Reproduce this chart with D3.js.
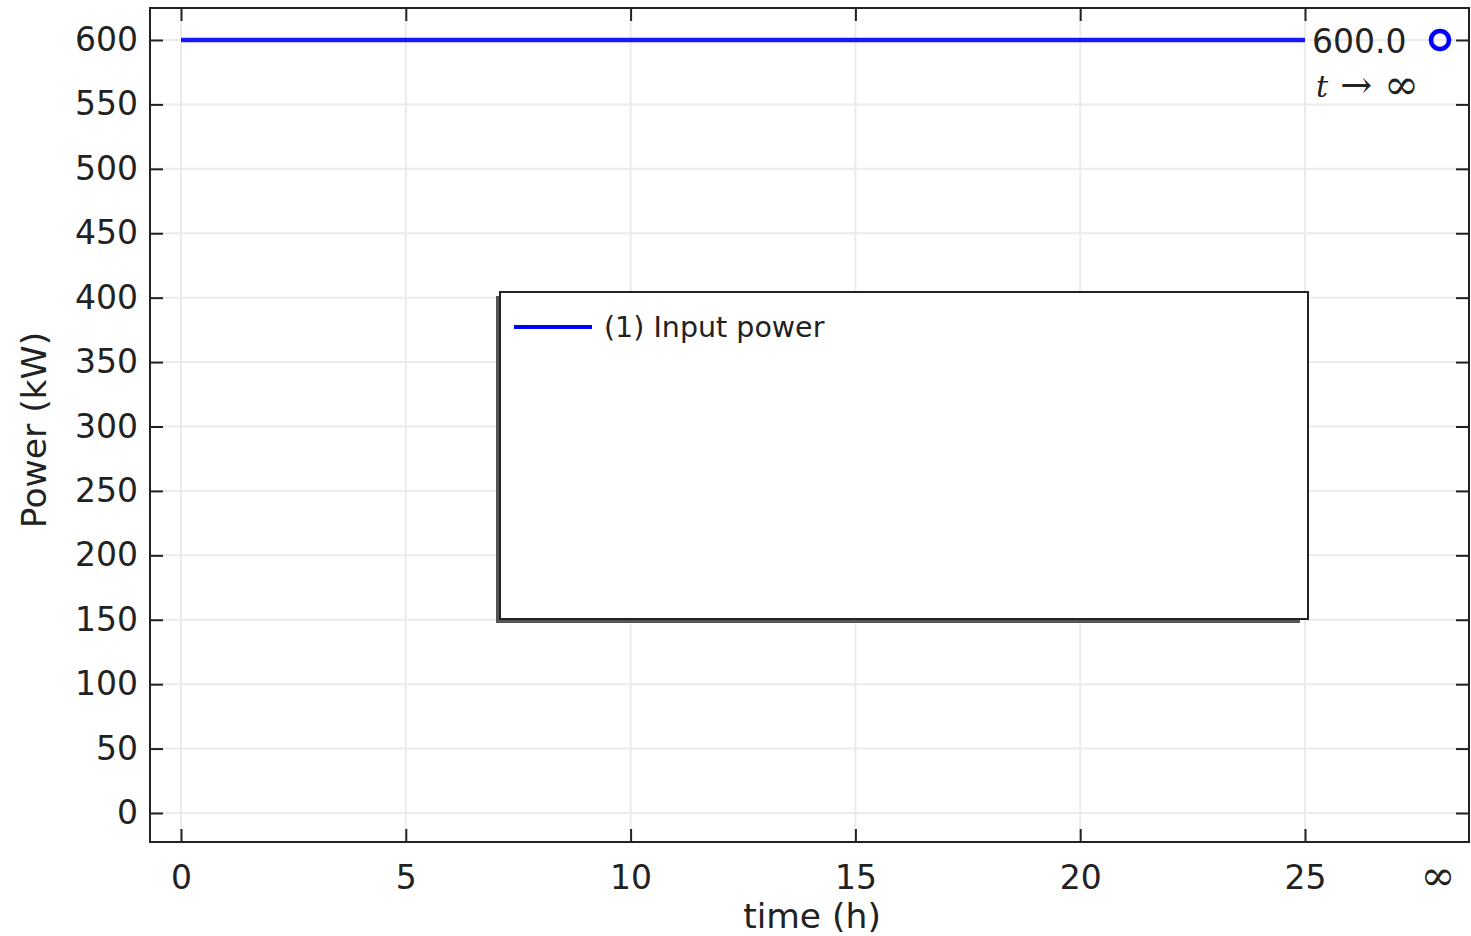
<!DOCTYPE html>
<html>
<head>
<meta charset="utf-8">
<script src="https://cdn.jsdelivr.net/npm/d3@7"></script>
<style>
  html, body { margin: 0; padding: 0; background: #fff; }
  svg text { font-family: "DejaVu Sans", sans-serif; fill: #222; }
</style>
</head>
<body>
<div id="chart"></div>
<script>
// data
const timeHours = [0, 25];
const inputPower = [600, 600];
const limitValue = 600;
const xTicks = [0, 5, 10, 15, 20, 25];
const yTicks = [0, 50, 100, 150, 200, 250, 300, 350, 400, 450, 500, 550, 600];
const seriesNames = ['(1) Input power'];

const W = 1471, H = 936;
const frame = { left: 150, top: 8, right: 1469, bottom: 842 };
const infX = 1440;   // column for t -> infinity

const svg = d3.select('#chart').append('svg')
    .attr('width', W)
    .attr('height', H);

const x = d3.scaleLinear().domain([0, 25]).range([181, 1305]);
const y = d3.scaleLinear().domain([0, 600]).range([813, 40]);

// grid
svg.append('g').selectAll('line.vg')
    .data(xTicks).enter().append('line')
    .attr('x1', d => x(d)).attr('x2', d => x(d))
    .attr('y1', frame.top).attr('y2', frame.bottom)
    .attr('stroke', '#ebebeb').attr('stroke-width', 2);

svg.append('g').selectAll('line.hg')
    .data(yTicks).enter().append('line')
    .attr('x1', frame.left).attr('x2', frame.right)
    .attr('y1', d => y(d)).attr('y2', d => y(d))
    .attr('stroke', '#ebebeb').attr('stroke-width', 2);

// legend box with shadow
const lg = { x: 500, y: 292, w: 808, h: 327 };
svg.append('rect')
    .attr('x', lg.x - 4).attr('y', lg.y + 4)
    .attr('width', lg.w - 4).attr('height', lg.h)
    .attr('fill', '#555');
svg.append('rect')
    .attr('x', lg.x).attr('y', lg.y)
    .attr('width', lg.w).attr('height', lg.h)
    .attr('fill', '#fff').attr('stroke', '#222').attr('stroke-width', 2);

seriesNames.forEach((name, i) => {
    const ly = lg.y + 35 + i * 36;
    svg.append('line')
        .attr('x1', lg.x + 14).attr('x2', lg.x + 92)
        .attr('y1', ly).attr('y2', ly)
        .attr('stroke', '#0000ff').attr('stroke-width', 4);
    svg.append('text')
        .attr('x', lg.x + 104).attr('y', ly + 10)
        .attr('font-size', 28.5)
        .text(name);
});

// series
const line = d3.line().x(d => x(d[0])).y(d => y(d[1]));
svg.append('path')
    .datum(timeHours.map((t, i) => [t, inputPower[i]]))
    .attr('d', line)
    .attr('fill', 'none')
    .attr('stroke', '#0000ff')
    .attr('stroke-width', 4.5)
    .attr('stroke-opacity', 0.9);

// limit marker
svg.append('circle')
    .attr('cx', infX).attr('cy', y(limitValue))
    .attr('r', 9)
    .attr('fill', 'none')
    .attr('stroke', '#0000ff')
    .attr('stroke-width', 4.5);

svg.append('text')
    .attr('x', 1312).attr('y', y(limitValue) + 13)
    .attr('font-size', 33)
    .text(limitValue.toFixed(1));

const tl = svg.append('text')
    .attr('x', 1316).attr('y', 97)
    .attr('font-size', 30)
    .style('font-family', '"DejaVu Serif", serif');
tl.append('tspan').attr('font-style', 'italic').text('t');
tl.append('tspan').attr('font-size', 38).attr('dy', 1).text(' \u2192 ');
tl.append('tspan').attr('font-size', 42).attr('dy', 1).text('\u221E');

// frame
svg.append('rect')
    .attr('x', frame.left).attr('y', frame.top)
    .attr('width', frame.right - frame.left)
    .attr('height', frame.bottom - frame.top)
    .attr('fill', 'none').attr('stroke', '#222').attr('stroke-width', 2);

// axes (ticks inward)
const tk = 13;
svg.append('g').attr('transform', `translate(0,${frame.bottom})`)
    .call(d3.axisBottom(x).tickValues(xTicks).tickSize(-tk).tickPadding(24).tickFormat(d3.format('d')))
    .call(g => g.select('.domain').remove())
    .call(g => g.selectAll('line').attr('stroke', '#222').attr('stroke-width', 2))
    .call(g => g.selectAll('text').attr('font-size', 33).attr('fill', '#222').attr('font-family', '"DejaVu Sans", sans-serif'));

svg.append('g').attr('transform', `translate(0,${frame.top})`)
    .call(d3.axisTop(x).tickValues(xTicks).tickSize(-tk).tickFormat(''))
    .call(g => g.select('.domain').remove())
    .call(g => g.selectAll('line').attr('stroke', '#222').attr('stroke-width', 2));

svg.append('g').attr('transform', `translate(${frame.left},0)`)
    .call(d3.axisLeft(y).tickValues(yTicks).tickSize(-tk).tickPadding(12).tickFormat(d3.format('d')))
    .call(g => g.select('.domain').remove())
    .call(g => g.selectAll('line').attr('stroke', '#222').attr('stroke-width', 2))
    .call(g => g.selectAll('text').attr('font-size', 33).attr('fill', '#222').attr('font-family', '"DejaVu Sans", sans-serif'));

svg.append('g').attr('transform', `translate(${frame.right},0)`)
    .call(d3.axisRight(y).tickValues(yTicks).tickSize(-tk).tickFormat(''))
    .call(g => g.select('.domain').remove())
    .call(g => g.selectAll('line').attr('stroke', '#222').attr('stroke-width', 2));

// infinity tick label
svg.append('text')
    .attr('x', 1438).attr('y', 890)
    .attr('text-anchor', 'middle')
    .attr('font-size', 42)
    .style('font-family', '"DejaVu Serif", serif')
    .text('\u221E');

// axis titles
svg.append('text')
    .attr('x', 812).attr('y', 928)
    .attr('text-anchor', 'middle')
    .attr('font-size', 34.5)
    .text('time (h)');

svg.append('text')
    .attr('transform', 'translate(46,430) rotate(-90)')
    .attr('text-anchor', 'middle')
    .attr('font-size', 34.5)
    .text('Power (kW)');
</script>
</body>
</html>
